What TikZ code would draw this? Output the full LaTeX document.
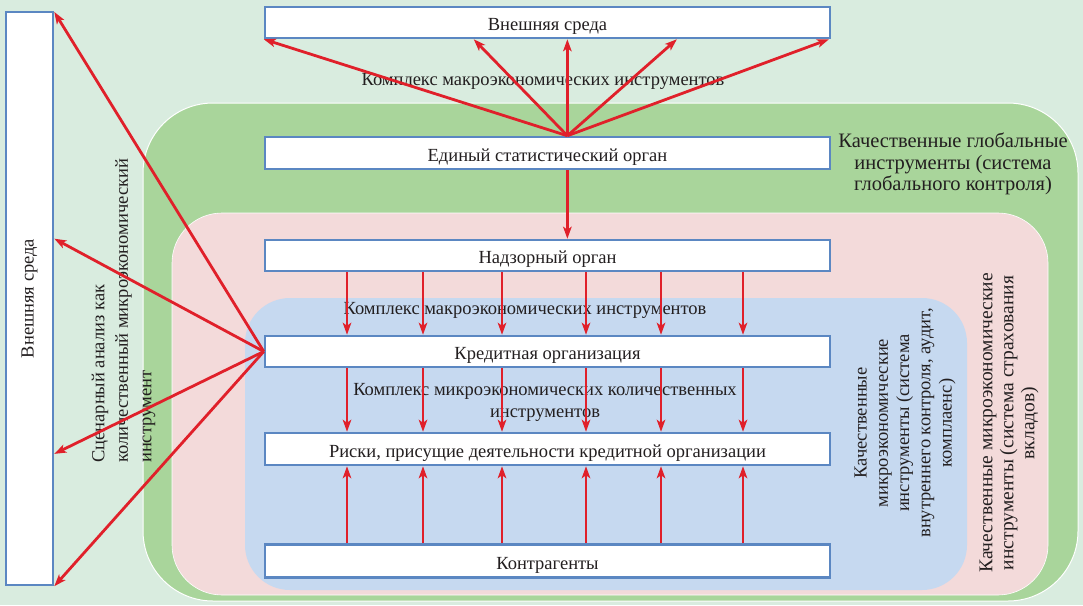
\documentclass[tikz,border=0pt]{standalone}
\usepackage{fontspec}
\setmainfont{Liberation Serif}
\usetikzlibrary{arrows.meta,calc}
\definecolor{bgc}{HTML}{D9ECDF}
\definecolor{greenR}{HTML}{A9D59B}
\definecolor{pinkR}{HTML}{F3DADA}
\definecolor{blueR}{HTML}{C6D9F0}
\definecolor{boxline}{HTML}{5B87C2}
\definecolor{arrred}{HTML}{E0202A}
\definecolor{txt}{HTML}{231F20}
\begin{document}
\begin{tikzpicture}[x=1pt,y=-1pt,
  every node/.style={text=txt,font=\fontsize{18.5}{22}\selectfont},
  boxbase/.style={draw=boxline,line width=2.5pt,fill=white,inner sep=0pt},
  box/.style={boxbase,text height=17pt,text depth=1pt},
  lbl/.style={inner sep=0pt,align=center},
  arr/.style={draw=arrred,line width=2.8pt,-{Stealth[length=12pt,width=8.5pt,inset=3pt]}}]
\useasboundingbox (0,0) rectangle (1083,605);
\fill[bgc] (0,0) rectangle (1083,605);
% regions
\draw[white,line width=1pt,fill=greenR,rounded corners=70pt] (143,103) rectangle (1078,601);
\draw[white,line width=0.6pt,fill=pinkR,rounded corners=50pt] (172,213) rectangle (1048,595);
\fill[blueR,rounded corners=45pt] (245,298) rectangle (967,590);
% boxes
\node[box,minimum width=565pt,minimum height=31pt] (top) at (547.5,22.5) {Внешняя среда};
\node[box,minimum width=565pt,minimum height=32pt] (eso) at (547.5,153) {Единый статистический орган};
\node[box,minimum width=565pt,minimum height=31pt] (nad) at (547.5,255.5) {Надзорный орган};
\node[box,minimum width=565pt,minimum height=31pt] (kred) at (547.5,351.5) {Кредитная организация};
\node[box,minimum width=565pt,minimum height=32pt] (risk) at (547.5,449) {Риски, присущие деятельности кредитной организации};
\node[box,minimum width=565pt,minimum height=33pt] (kontr) at (547.5,561) {Контрагенты};
\node[boxbase,minimum width=47pt,minimum height=573pt] (left) at (29.5,298.5) {\rotatebox{90}{Внешняя среда}};
% labels
\node[lbl] (l1) at (543,81) {Комплекс макроэкономических инструментов};
\node[lbl] (l2) at (525,310) {Комплекс макроэкономических инструментов};
\node[lbl] (l3) at (545,402) {Комплекс микроэкономических количественных\\инструментов};
\node[lbl,font=\fontsize{20.5}{21.5}\selectfont] (l4) at (953,164) {Качественные глобальные\\инструменты (система\\глобального контроля)};
\node[lbl,rotate=90,font=\fontsize{18.5}{21.2}\selectfont] (l5) at (905,423) {Качественные\\микроэкономические\\инструменты (система\\внутреннего контроля, аудит,\\комплаенс)};
\node[lbl,rotate=90,font=\fontsize{19.5}{21}\selectfont] (l6) at (1009,423) {Качественные микроэкономические\\инструменты (система страхования\\вкладов)};
\node[inner sep=0pt,align=left,rotate=90,anchor=west,font=\fontsize{18.5}{23.5}\selectfont] (l7) at (123.5,463) {Сценарный анализ как\\количественный микроэкономический\\инструмент};
% coordinates
\coordinate (o) at ($(eso.north west)!0.535!(eso.north east)$);
\foreach \i/\f in {1/0.0,2/0.37,3/0.535,4/0.728,5/0.996}
  \coordinate (t\i) at ($(top.south west)!\f!(top.south east)$);
\foreach \i/\f in {1/0.002,2/0.396,3/0.77,4/1.0}
  \coordinate (e\i) at ($(left.north east)!\f!(left.south east)$);
\foreach \i/\x in {1/347,2/423,3/502,4/586,5/661,6/743}
  \coordinate (v\i) at (\x,0);
% arrows
\foreach \i in {1,...,5} \draw[arr] (o) -- (t\i);
\draw[arr] (eso.south -| o) -- (nad.north -| o);
\foreach \i in {1,...,6} {
  \draw[arr] (nad.south -| v\i) -- (kred.north -| v\i);
  \draw[arr] (kred.south -| v\i) -- (risk.north -| v\i);
  \draw[arr] (kontr.north -| v\i) -- (risk.south -| v\i);
}
\foreach \i in {1,...,4} \draw[arr] (kred.west) -- (e\i);
\end{tikzpicture}
\end{document}
